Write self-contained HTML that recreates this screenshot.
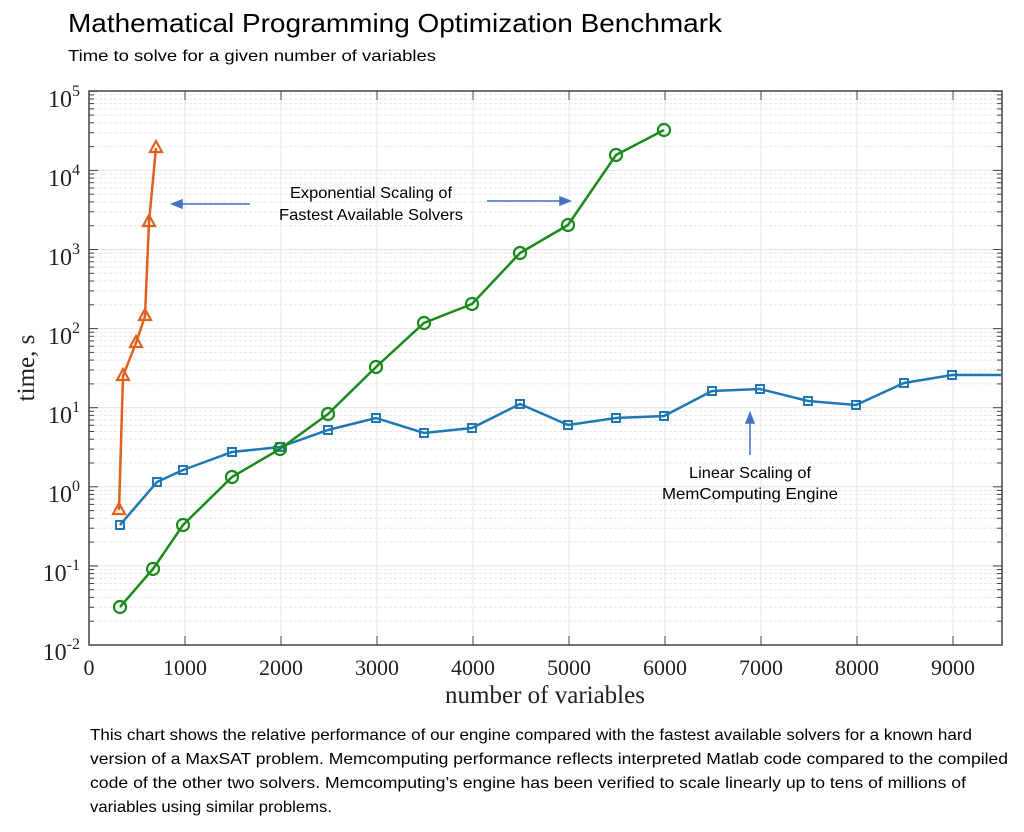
<!DOCTYPE html>
<html><head><meta charset="utf-8"><style>
body{margin:0;background:#fff;width:1024px;height:827px;overflow:hidden;font-family:"Liberation Sans",sans-serif}
</style></head><body>
<svg width="1024" height="827" viewBox="0 0 1024 827" xmlns="http://www.w3.org/2000/svg">
<defs>
<g id="dec">
<line x1="89" x2="1002" y1="-23.8" y2="-23.8"/><line x1="89" x2="1002" y1="-37.7" y2="-37.7"/>
<line x1="89" x2="1002" y1="-47.6" y2="-47.6"/><line x1="89" x2="1002" y1="-55.3" y2="-55.3"/>
<line x1="89" x2="1002" y1="-61.5" y2="-61.5"/><line x1="89" x2="1002" y1="-66.8" y2="-66.8"/>
<line x1="89" x2="1002" y1="-71.4" y2="-71.4"/><line x1="89" x2="1002" y1="-75.5" y2="-75.5"/>
</g>
<g id="tk">
<line x1="89" x2="94" y1="-23.8" y2="-23.8"/><line x1="89" x2="94" y1="-37.7" y2="-37.7"/>
<line x1="89" x2="94" y1="-47.6" y2="-47.6"/><line x1="89" x2="94" y1="-55.3" y2="-55.3"/>
<line x1="89" x2="94" y1="-61.5" y2="-61.5"/><line x1="89" x2="94" y1="-66.8" y2="-66.8"/>
<line x1="89" x2="94" y1="-71.4" y2="-71.4"/><line x1="89" x2="94" y1="-75.5" y2="-75.5"/>
<line x1="89" x2="98" y1="-79.1" y2="-79.1"/>
<line x1="997" x2="1002" y1="-23.8" y2="-23.8"/><line x1="997" x2="1002" y1="-37.7" y2="-37.7"/>
<line x1="997" x2="1002" y1="-47.6" y2="-47.6"/><line x1="997" x2="1002" y1="-55.3" y2="-55.3"/>
<line x1="997" x2="1002" y1="-61.5" y2="-61.5"/><line x1="997" x2="1002" y1="-66.8" y2="-66.8"/>
<line x1="997" x2="1002" y1="-71.4" y2="-71.4"/><line x1="997" x2="1002" y1="-75.5" y2="-75.5"/>
<line x1="993" x2="1002" y1="-79.1" y2="-79.1"/>
</g>
</defs>
<text x="68" y="32" font-size="26" fill="#000" textLength="654" lengthAdjust="spacingAndGlyphs">Mathematical Programming Optimization Benchmark</text>
<text x="68" y="61" font-size="16" fill="#000" textLength="368" lengthAdjust="spacingAndGlyphs">Time to solve for a given number of variables</text>
<g stroke="#e6e6e6" stroke-width="1" stroke-dasharray="3,2">
<use href="#dec" y="645"/><use href="#dec" y="565.9"/><use href="#dec" y="486.8"/><use href="#dec" y="407.7"/>
<use href="#dec" y="328.6"/><use href="#dec" y="249.5"/><use href="#dec" y="170.4"/>
</g>
<g stroke="#e4e4e4" stroke-width="1">
<line x1="89" x2="1002" y1="565.9" y2="565.9"/><line x1="89" x2="1002" y1="486.8" y2="486.8"/>
<line x1="89" x2="1002" y1="407.7" y2="407.7"/><line x1="89" x2="1002" y1="328.6" y2="328.6"/>
<line x1="89" x2="1002" y1="249.5" y2="249.5"/><line x1="89" x2="1002" y1="170.4" y2="170.4"/>
<line x1="185" x2="185" y1="91" y2="645"/><line x1="281" x2="281" y1="91" y2="645"/>
<line x1="377" x2="377" y1="91" y2="645"/><line x1="473" x2="473" y1="91" y2="645"/>
<line x1="569" x2="569" y1="91" y2="645"/><line x1="665" x2="665" y1="91" y2="645"/>
<line x1="761" x2="761" y1="91" y2="645"/><line x1="857" x2="857" y1="91" y2="645"/>
<line x1="953" x2="953" y1="91" y2="645"/>
</g>
<g stroke="#444" stroke-width="1">
<use href="#tk" y="645"/><use href="#tk" y="565.9"/><use href="#tk" y="486.8"/><use href="#tk" y="407.7"/>
<use href="#tk" y="328.6"/><use href="#tk" y="249.5"/><use href="#tk" y="170.4"/>
<path d="M185 645v-9M281 645v-9M377 645v-9M473 645v-9M569 645v-9M665 645v-9M761 645v-9M857 645v-9M953 645v-9M185 91v9M281 91v9M377 91v9M473 91v9M569 91v9M665 91v9M761 91v9M857 91v9M953 91v9M89 566h9M993 566h9"/>
</g>
<rect x="89" y="91" width="913" height="554" fill="none" stroke="#444" stroke-width="1.5"/>
<g font-family="Liberation Serif,serif" font-size="24" fill="#222" text-anchor="end">
<text x="80" y="107">10<tspan dy="-11" font-size="16">5</tspan></text>
<text x="80" y="186">10<tspan dy="-11" font-size="16">4</tspan></text>
<text x="80" y="265">10<tspan dy="-11" font-size="16">3</tspan></text>
<text x="80" y="344">10<tspan dy="-11" font-size="16">2</tspan></text>
<text x="80" y="423">10<tspan dy="-11" font-size="16">1</tspan></text>
<text x="80" y="502">10<tspan dy="-11" font-size="16">0</tspan></text>
<text x="80" y="581">10<tspan dy="-11" font-size="16">-1</tspan></text>
<text x="80" y="660">10<tspan dy="-11" font-size="16">-2</tspan></text>
</g>
<g font-family="Liberation Serif,serif" font-size="22" fill="#222" text-anchor="middle">
<text x="89" y="675">0</text><text x="185" y="675">1000</text><text x="281" y="675">2000</text>
<text x="377" y="675">3000</text><text x="473" y="675">4000</text><text x="569" y="675">5000</text>
<text x="665" y="675">6000</text><text x="761" y="675">7000</text><text x="857" y="675">8000</text>
<text x="953" y="675">9000</text>
<text x="545" y="703" font-size="25">number of variables</text>
<text transform="translate(34,368) rotate(-90)" font-size="25">time, s</text>
</g>
<g fill="none" stroke="#1f77b4" stroke-width="2.5">
<polyline points="120,525 157,482 183,470 232,452 280,447 328,430 376,418 424,433 472,428 520,404 568,425 616,418 664,416 712,391 760,389 808,401 856,405 904,383 952,375 1002,375"/>
<g stroke-width="2">
<rect x="116" y="521" width="8" height="8"/><rect x="153" y="478" width="8" height="8"/><rect x="179" y="466" width="8" height="8"/>
<rect x="228" y="448" width="8" height="8"/><rect x="276" y="443" width="8" height="8"/><rect x="324" y="426" width="8" height="8"/>
<rect x="372" y="414" width="8" height="8"/><rect x="420" y="429" width="8" height="8"/><rect x="468" y="424" width="8" height="8"/>
<rect x="516" y="400" width="8" height="8"/><rect x="564" y="421" width="8" height="8"/><rect x="612" y="414" width="8" height="8"/>
<rect x="660" y="412" width="8" height="8"/><rect x="708" y="387" width="8" height="8"/><rect x="756" y="385" width="8" height="8"/>
<rect x="804" y="397" width="8" height="8"/><rect x="852" y="401" width="8" height="8"/><rect x="900" y="379" width="8" height="8"/>
<rect x="948" y="371" width="8" height="8"/>
</g>
</g>
<g fill="none" stroke="#1a8a1a" stroke-width="2.5">
<polyline points="120,607 153,569 183,525 232,477 280,449 328,414 376,367 424,323 472,304 520,253 568,225 616,155 664,130"/>
<g stroke-width="2.2">
<circle cx="120" cy="607" r="6"/><circle cx="153" cy="569" r="6"/><circle cx="183" cy="525" r="6"/><circle cx="232" cy="477" r="6"/>
<circle cx="280" cy="449" r="6"/><circle cx="328" cy="414" r="6"/><circle cx="376" cy="367" r="6"/><circle cx="424" cy="323" r="6"/>
<circle cx="472" cy="304" r="6"/><circle cx="520" cy="253" r="6"/><circle cx="568" cy="225" r="6"/><circle cx="616" cy="155" r="6"/>
<circle cx="664" cy="130" r="6"/>
</g>
</g>
<g fill="none" stroke="#e06020" stroke-width="2.5">
<polyline points="119,510 123,376 136,343 145,316 149,222 156,148"/>
<g stroke-width="2.2">
<polygon points="119,503 125,514 113,514"/><polygon points="123,369 129,380 117,380"/><polygon points="136,336 142,347 130,347"/>
<polygon points="145,309 151,320 139,320"/><polygon points="149,215 155,226 143,226"/><polygon points="156,141 162,152 150,152"/>
</g>
</g>
<g stroke="#4472c4" stroke-width="1.5" fill="#4472c4">
<line x1="182" y1="204" x2="250" y2="204"/><polygon points="172,204 182,200 182,208"/>
<line x1="487" y1="201" x2="560" y2="201"/><polygon points="570,201 560,197 560,205"/>
<line x1="750" y1="423" x2="750" y2="455"/><polygon points="750,413 746,423 754,423"/>
</g>
<g font-size="16" fill="#000" text-anchor="middle">
<text x="371" y="198" textLength="162" lengthAdjust="spacingAndGlyphs">Exponential Scaling of</text>
<text x="371" y="220" textLength="184" lengthAdjust="spacingAndGlyphs">Fastest Available Solvers</text>
<text x="750" y="478" textLength="122" lengthAdjust="spacingAndGlyphs">Linear Scaling of</text>
<text x="750" y="499" textLength="176" lengthAdjust="spacingAndGlyphs">MemComputing Engine</text>
</g>
<g font-size="16" fill="#000">
<text x="90" y="740" textLength="882" lengthAdjust="spacingAndGlyphs">This chart shows the relative performance of our engine compared with the fastest available solvers for a known hard</text>
<text x="90" y="764" textLength="918" lengthAdjust="spacingAndGlyphs">version of a MaxSAT problem.  Memcomputing performance reflects interpreted Matlab code compared to the compiled</text>
<text x="90" y="788" textLength="876" lengthAdjust="spacingAndGlyphs">code of the other two solvers.  Memcomputing’s engine has been verified to scale linearly up to tens of millions of</text>
<text x="90" y="812" textLength="242" lengthAdjust="spacingAndGlyphs">variables using similar problems.</text>
</g>
</svg>
</body></html>
